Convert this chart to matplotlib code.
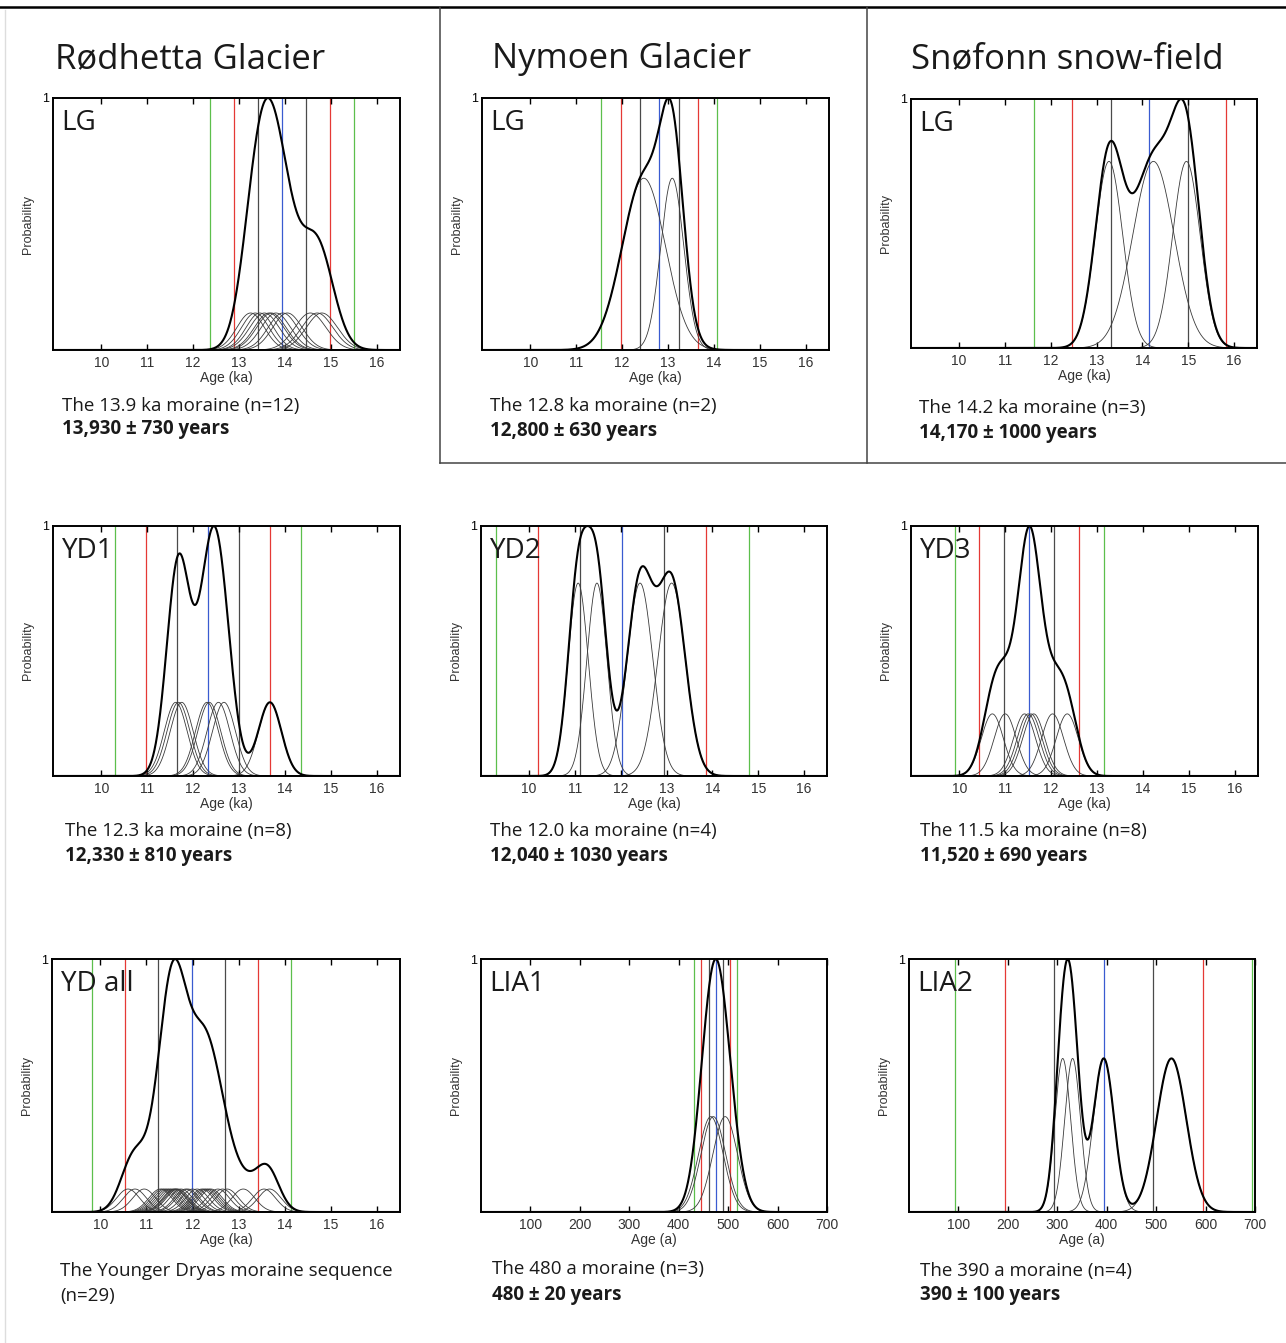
import numpy as np
import matplotlib
matplotlib.use('Agg')
import matplotlib.pyplot as plt
from matplotlib.lines import Line2D

plt.rcParams['font.family'] = ['Liberation Sans', 'DejaVu Sans']
SANS = ['Open Sans', 'DejaVu Sans']

W, H = 1286, 1343

# column headings
headings = ['Rødhetta Glacier', 'Nymoen Glacier', 'Snøfonn snow-field']

# panel labels, row by row
labels = ['LG', 'LG', 'LG', 'YD1', 'YD2', 'YD3', 'YD all', 'LIA1', 'LIA2']

# individual ages (ka, or years for LIA) and their 1-sigma
rod_lg_age = [13.25, 13.35, 13.45, 13.55, 13.65, 13.7, 13.8, 13.95, 14.05, 14.55, 14.7, 14.8]
rod_lg_sd = [0.3, 0.3, 0.3, 0.32, 0.32, 0.32, 0.32, 0.32, 0.32, 0.34, 0.34, 0.34]
nym_lg_age = [12.47, 13.09]
nym_lg_sd = [0.47, 0.25]
sno_lg_age = [13.27, 14.24, 14.96]
sno_lg_sd = [0.3, 0.45, 0.3]
yd1_age = [11.62, 11.68, 11.75, 12.3, 12.35, 12.55, 12.67, 13.67]
yd1_sd = [0.25] * 8
yd2_age = [11.07, 11.48, 12.42, 13.11]
yd2_sd = [0.22, 0.22, 0.28, 0.3]
yd3_age = [10.72, 11.0, 11.42, 11.5, 11.56, 11.62, 12.03, 12.35]
yd3_sd = [0.24] * 8
ydall_age = [10.6, 10.75, 10.95, 11.3, 11.35, 11.4, 11.45, 11.5, 11.55, 11.6,
             11.62, 11.65, 11.68, 11.75, 11.85, 11.9, 12.0, 12.1, 12.2, 12.25,
             12.3, 12.35, 12.4, 12.55, 12.65, 12.75, 13.1, 13.55, 13.67]
ydall_sd = [0.25] * 29
lia1_age = [465, 470, 494]
lia1_sd = [25, 25, 25]
lia2_age = [311, 331, 394, 531]
lia2_sd = [16, 16, 21, 30]

ages = [rod_lg_age, nym_lg_age, sno_lg_age, yd1_age, yd2_age, yd3_age,
        ydall_age, lia1_age, lia2_age]
sds = [rod_lg_sd, nym_lg_sd, sno_lg_sd, yd1_sd, yd2_sd, yd3_sd,
       ydall_sd, lia1_sd, lia2_sd]

# group mean and spread -> vertical lines at mean +/- 1, 2, 3 sd
group_mean = [13.93, 12.81, 14.15, 12.32, 12.03, 11.52, 11.98, 475, 394]
group_sd = [0.52, 0.42, 0.84, 0.675, 0.92, 0.54, 0.72, 14.5, 100]

captions = ['The 13.9 ka moraine (n=12)', 'The 12.8 ka moraine (n=2)',
            'The 14.2 ka moraine (n=3)', 'The 12.3 ka moraine (n=8)',
            'The 12.0 ka moraine (n=4)', 'The 11.5 ka moraine (n=8)',
            'The Younger Dryas moraine sequence', 'The 480 a moraine (n=3)',
            'The 390 a moraine (n=4)']
results = ['13,930 ± 730 years', '12,800 ± 630 years', '14,170 ± 1000 years',
           '12,330 ± 810 years', '12,040 ± 1030 years', '11,520 ± 690 years',
           '(n=29)', '480 ± 20 years', '390 ± 100 years']

# panel boxes in pixels (left, top, right, bottom)
boxes = [(53, 98, 400, 350), (482, 98, 829, 350), (911, 99, 1257, 348),
         (53, 526, 400, 776), (481, 526, 827, 776), (911, 526, 1258, 776),
         (52, 959, 400, 1212), (481, 959, 827, 1212), (909, 959, 1255, 1212)]
cap_pos = [(62, 406, 429), (490, 406, 431), (919, 408, 433),
           (65, 831, 856), (490, 831, 856), (920, 831, 856),
           (60, 1271, 1296), (492, 1269, 1295), (920, 1271, 1295)]
head_x = [55, 492, 911]

line_cols = {1: '#4a4a4a', 2: '#e53935', 3: '#5cbf4c'}

fig = plt.figure(figsize=(W / 100, H / 100), dpi=100)
fig.patch.set_facecolor('white')


def fx(px):
    return px / W


def fy(py):
    return 1 - py / H


for i in range(9):
    l, t, r, b = boxes[i]
    ax = fig.add_axes([fx(l), fy(b), fx(r) - fx(l), (b - t) / H])
    lia = i >= 7
    xmin, xmax = (0, 700) if lia else (8.95, 16.5)
    x = np.linspace(xmin, xmax, 1500)
    a = np.array(ages[i], dtype=float)
    s = np.array(sds[i], dtype=float)
    g = np.exp(-(x[None, :] - a[:, None]) ** 2 / (2 * s[:, None] ** 2))
    total = g.sum(axis=0)
    peak = total.max()

    # vertical reference lines
    m, sd = group_mean[i], group_sd[i]
    for k in (-3, -2, -1, 1, 2, 3):
        ax.axvline(m + k * sd, color=line_cols[abs(k)], lw=0.9, zorder=1)
    ax.axvline(m, color='#3a5bd0', lw=0.9, zorder=1)

    for row in g:
        ax.plot(x, row / peak, color='#3a3a3a', lw=0.6, zorder=2)
    ax.plot(x, total / peak, color='black', lw=1.5, zorder=3)

    ax.set_xlim(xmin, xmax)
    ax.set_ylim(0, 1)
    if lia:
        ax.set_xticks([100, 200, 300, 400, 500, 600, 700])
        ax.set_xlabel('Age (a)', fontsize=10, color='#333333', labelpad=1)
    else:
        ax.set_xticks([10, 11, 12, 13, 14, 15, 16])
        ax.set_xlabel('Age (ka)', fontsize=10, color='#333333', labelpad=1)
    ax.set_yticks([1])
    ax.set_yticklabels(['1'])
    ax.tick_params(axis='x', direction='in', top=True, length=4, width=1,
                   labelsize=10, labelcolor='#333333', pad=4)
    ax.tick_params(axis='y', length=0, labelsize=9, pad=3)
    ax.set_ylabel('Probability', fontsize=9, color='#333333')
    ax.yaxis.set_label_coords(-0.055, 0.5)
    for sp in ax.spines.values():
        sp.set_linewidth(1.4)

    ax.text(0.025, 1 - 32 / (b - t), labels[i], transform=ax.transAxes,
            fontsize=20, va='baseline', ha='left', family=SANS, color='#1a1a1a')

    cx, cy1, cy2 = cap_pos[i]
    fig.text(fx(cx), fy(cy1), captions[i], fontsize=13.5, va='center',
             family=SANS, color='#1a1a1a')
    fig.text(fx(cx), fy(cy2), results[i], fontsize=13.5, va='center',
             family=SANS, color='#1a1a1a',
             fontweight='normal' if i == 6 else 'bold')

for j in range(3):
    fig.text(fx(head_x[j]), fy(68), headings[j], fontsize=25, va='baseline',
             family=SANS, color='#1a1a1a')

# frame lines around the top row
fig.add_artist(Line2D([0, 1], [fy(7), fy(7)], color='black', lw=1.8))
for xv in (440, 867):
    fig.add_artist(Line2D([fx(xv), fx(xv)], [fy(7), fy(463)], color='#444444', lw=1.1))
fig.add_artist(Line2D([fx(440), 1], [fy(463), fy(463)], color='#444444', lw=1.1))
fig.add_artist(Line2D([fx(5), fx(5)], [fy(10), 0], color='#dddddd', lw=1))

fig.savefig('out.png', dpi=100, facecolor='white')
